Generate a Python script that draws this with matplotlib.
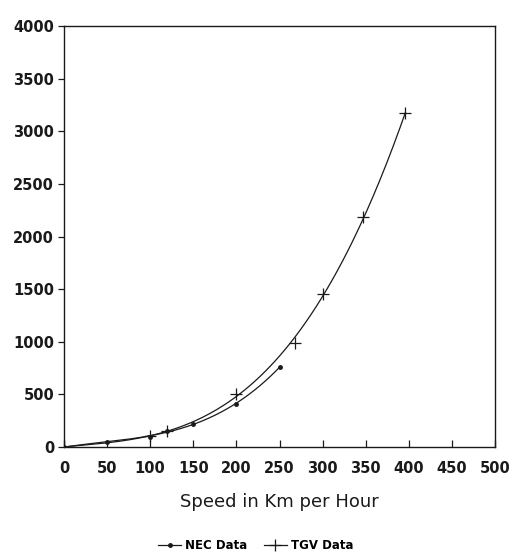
import numpy as np
import matplotlib
matplotlib.use("Agg")
import matplotlib.pyplot as plt
from matplotlib.lines import Line2D

# Data
nec_speed = [0, 50, 100, 120, 150, 200, 250]
nec_value = [0, 48, 100, 150, 220, 410, 760]
tgv_speed = [0, 100, 120, 200, 268, 300, 347, 396]
tgv_value = [0, 105, 150, 505, 990, 1457, 2190, 3170]
x_ticks = [0, 50, 100, 150, 200, 250, 300, 350, 400, 450, 500]
y_ticks = [0, 500, 1000, 1500, 2000, 2500, 3000, 3500, 4000]

ink = "#1a1a1a"
fig = plt.figure(figsize=(5.11, 5.56), dpi=100)
ax = fig.add_axes([0.125, 0.196, 0.844, 0.757])

# smooth trend curves (cubic fits) through each series
for xs, ys in ((nec_speed, nec_value), (tgv_speed, tgv_value)):
    c = np.polyfit(xs, ys, 3)
    xx = np.linspace(0, max(xs), 200)
    ax.plot(xx, np.polyval(c, xx), color=ink, lw=0.9)

ax.plot(nec_speed, nec_value, ls="none", marker="o", ms=2.5, color=ink)
ax.plot(tgv_speed, tgv_value, ls="none", marker="+", ms=8, mew=0.9, color=ink)

ax.set_xlim(0, 500)
ax.set_ylim(0, 4000)
ax.set_xticks(x_ticks)
ax.set_yticks(y_ticks)
ax.tick_params(axis="x", direction="in", length=5, width=0.9, pad=10, colors=ink)
ax.tick_params(axis="y", direction="out", length=4, width=0.9, pad=3, colors=ink)
for lab in ax.get_xticklabels() + ax.get_yticklabels():
    lab.set_fontweight("bold")
    lab.set_fontsize(10.5)
for s in ax.spines.values():
    s.set_linewidth(1.0)
    s.set_color(ink)

ax.set_xlabel("Speed in Km per Hour", fontsize=13, color=ink, labelpad=12)

handles = [
    Line2D([], [], color=ink, lw=0.9, marker="o", ms=2.5),
    Line2D([], [], color=ink, lw=0.9, marker="+", ms=8, mew=0.9),
]
fig.legend(handles, ["NEC Data", "TGV Data"], loc="center", bbox_to_anchor=(0.5, 0.018),
           ncol=2, frameon=False, prop={"weight": "bold", "size": 8.5},
           handlelength=2.0, handletextpad=0.3, columnspacing=1.4)

fig.savefig("out.png", dpi=100)
